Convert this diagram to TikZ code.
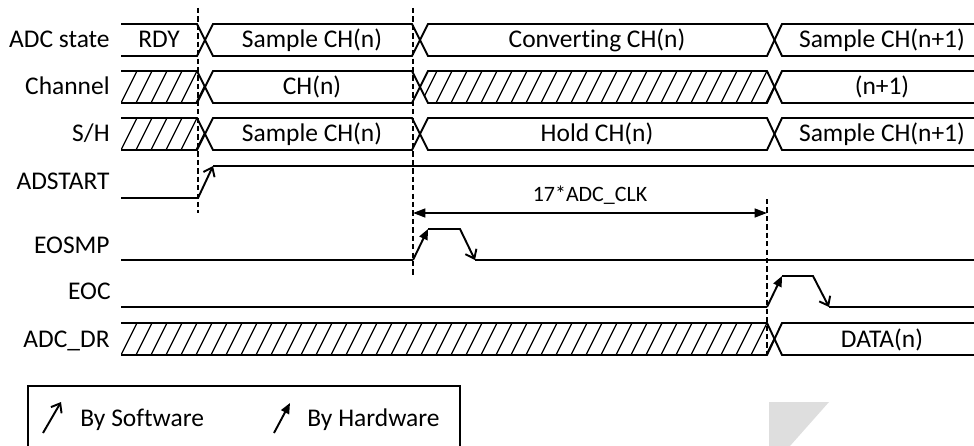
\documentclass[tikz,border=0pt]{standalone}
\usepackage{fontspec}
\setmainfont{Carlito}[Ligatures=NoCommon]
\usetikzlibrary{arrows.meta, positioning}

\begin{document}
\begin{tikzpicture}[x=0.02cm, y=-0.02cm,
    font=\fontsize{14.5}{17}\selectfont,
    sig/.style={line width=1.1pt, line join=miter},
    hatch/.style={line width=0.7pt},
    guide/.style={line width=0.9pt, dash pattern=on 3pt off 1.8pt},
    lbl/.style={anchor=base east, inner sep=0pt},
    txt/.style={anchor=base, inner sep=0pt},
    sw/.style={-{Straight Barb[length=4.5pt, width=7pt]}},
    hw/.style={-{Triangle[length=6pt, width=5pt]}}]

    \useasboundingbox (0,0) rectangle (974,446);

    % row labels
    \node[lbl] (l-state) at (110,48) {ADC state};
    \node[lbl] (l-chan) at (110,95) {Channel};
    \node[lbl] (l-sh) at (110,142) {S/H};
    \node[lbl] (l-start) at (110,190) {ADSTART};
    \node[lbl] (l-eosmp) at (110,253) {EOSMP};
    \node[lbl] (l-eoc) at (111,299) {EOC};
    \node[lbl] (l-dr) at (110,347) {ADC\_DR};

    % ADC state
    \draw[sig] (121,24) -- (197,24) -- (213,56) -- (412,56) -- (428,24) -- (767,24) -- (782,56) -- (974,56);
    \draw[sig] (121,56) -- (197,56) -- (213,24) -- (412,24) -- (428,56) -- (767,56) -- (782,24) -- (974,24);
    \node[txt] (s-rdy) at (159,48) {RDY};
    \node[txt] (s-smp) at (312,48) {Sample CH(n)};
    \node[txt] (s-conv) at (597,48) {Converting CH(n)};
    \node[txt] (s-next) at (882,48) {Sample CH(n+1)};

    % Channel
    \draw[sig] (121,71) -- (197,71) -- (213,103) -- (412,103) -- (428,71) -- (767,71) -- (782,103) -- (974,103);
    \draw[sig] (121,103) -- (197,103) -- (213,71) -- (412,71) -- (428,103) -- (767,103) -- (782,71) -- (974,71);
    \begin{scope}
        \clip (121,71) -- (197,71) -- (205,87) -- (197,103) -- (121,103) -- cycle;
        \foreach \k in {0,...,6}
            \draw[hatch] (121+15*\k,103) -- (137+15*\k,71);
    \end{scope}
    \begin{scope}
        \clip (420,87) -- (428,71) -- (767,71) -- (774.5,87) -- (767,103) -- (428,103) -- cycle;
        \foreach \k in {18,...,44}
            \draw[hatch] (121+15*\k,103) -- (137+15*\k,71);
    \end{scope}
    \node[txt] (c-n) at (312,95) {CH(n)};
    \node[txt] (c-next) at (882,95) {(n+1)};

    % S/H
    \draw[sig] (121,118) -- (197,118) -- (213,150) -- (412,150) -- (428,118) -- (767,118) -- (782,150) -- (974,150);
    \draw[sig] (121,150) -- (197,150) -- (213,118) -- (412,118) -- (428,150) -- (767,150) -- (782,118) -- (974,118);
    \begin{scope}
        \clip (121,118) -- (197,118) -- (205,134) -- (197,150) -- (121,150) -- cycle;
        \foreach \k in {0,...,6}
            \draw[hatch] (121+15*\k,150) -- (137+15*\k,118);
    \end{scope}
    \node[txt] (h-smp) at (312,142) {Sample CH(n)};
    \node[txt] (h-hold) at (597,142) {Hold CH(n)};
    \node[txt] (h-next) at (882,142) {Sample CH(n+1)};

    % ADSTART
    \draw[sig] (121,198) -- (198,198);
    \draw[sig, sw] (198,198) -- (213,166);
    \draw[sig] (213,166) -- (974,166);

    % EOSMP
    \draw[sig] (121,260) -- (413,260);
    \draw[sig, hw] (413,260) -- (428,229);
    \draw[sig, sw] (428,229) -- (460,229) -- (475,260);
    \draw[sig] (475,260) -- (974,260);

    % EOC
    \draw[sig] (121,307) -- (767,307);
    \draw[sig, hw] (767,307) -- (782,276);
    \draw[sig, sw] (782,276) -- (813,276) -- (829,307);
    \draw[sig] (829,307) -- (974,307);

    % ADC_DR
    \draw[sig] (121,323) -- (767,323) -- (782,355) -- (974,355);
    \draw[sig] (121,355) -- (767,355) -- (782,323) -- (974,323);
    \begin{scope}
        \clip (121,323) -- (767,323) -- (774.5,339) -- (767,355) -- (121,355) -- cycle;
        \foreach \k in {0,...,44}
            \draw[hatch] (121+15*\k,355) -- (137+15*\k,323);
    \end{scope}
    \node[txt] (d-data) at (882,347) {DATA(n)};

    % guides and timing
    \coordinate (g1-top) at (198,8);
    \coordinate (g1-bot) at (198,213);
    \coordinate (g2-top) at (413,8);
    \coordinate (g2-bot) at (413,277);
    \coordinate (g3-top) at (767,199);
    \coordinate (g3-bot) at (767,355);
    \draw[guide] (g1-top) -- (g1-bot);
    \draw[guide] (g2-top) -- (g2-bot);
    \draw[guide] (g3-top) -- (g3-bot);

    \coordinate (t-start) at (413,213);
    \coordinate (t-end) at (767,213);
    \draw[sig, {Triangle[length=7pt, width=5pt]}-{Triangle[length=7pt, width=5pt]}] (t-start) -- node[above=1pt, font=\fontsize{12.5}{15}\selectfont] (t-lbl) {17*ADC\_CLK} (t-end);

    % legend
    \draw[sig] (28,446) -- (28,386) -- (460,386) -- (460,446);
    \coordinate (sw-a) at (43,433);
    \coordinate (sw-b) at (61,402);
    \coordinate (hw-a) at (274,433);
    \coordinate (hw-b) at (290,403);
    \draw[sig, sw] (sw-a) -- (sw-b);
    \draw[sig, hw] (hw-a) -- (hw-b);
    \node[anchor=base west, inner sep=0pt] (leg-sw) at (80,426) {By Software};
    \node[anchor=base west, inner sep=0pt] (leg-hw) at (307,426) {By Hardware};

    % grey mark
    \fill[black!13] (769,402) -- (829,402) -- (790,446) -- (769,446) -- cycle;
\end{tikzpicture}
\end{document}
